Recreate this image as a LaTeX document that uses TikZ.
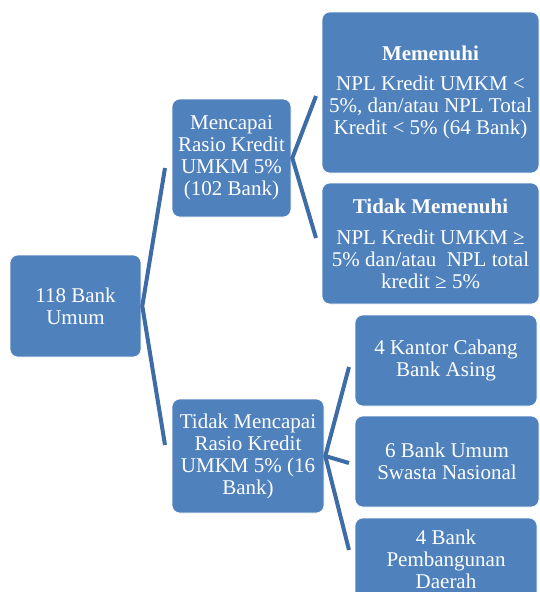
\documentclass[tikz,border=0pt]{standalone}
\usepackage{fontspec}
\setmainfont{Liberation Serif}
\definecolor{boxblue}{HTML}{4F81BD}
\definecolor{linkblue}{HTML}{3E6CA6}
\begin{document}
\begin{tikzpicture}[x=1pt,y=-1pt,
  box/.style={fill=boxblue, draw=white, line width=0.6pt, rounded corners=8pt,
    text=white, align=center, inner sep=0pt,
    font=\fontsize{21}{22}\selectfont},
  link/.style={draw=linkblue, line width=4pt, line cap=butt}]
\useasboundingbox (0,0) rectangle (540,592);
\clip (0,0) rectangle (540,592);
% nodes
\node[box, minimum width=131pt, minimum height=102pt] (root) at (75.5,306) {118 Bank\\Umum};
\node[box, minimum width=119pt, minimum height=118pt] (menc) at (231.5,158) {Mencapai\\Rasio Kredit\\UMKM 5\%\\(102 Bank)};
\node[box, minimum width=152pt, minimum height=114pt] (tidak) at (248,456) {Tidak Mencapai\\Rasio Kredit\\UMKM 5\% (16\\Bank)};
\node[box, minimum width=217pt, minimum height=161pt] (mem) at (430.5,92.5) {\textbf{Memenuhi}\\[8pt]NPL Kredit UMKM <\\5\%, dan/atau NPL Total\\Kredit < 5\% (64 Bank)};
\node[box, minimum width=217pt, minimum height=121pt] (tmem) at (430.5,243.5) {\textbf{Tidak Memenuhi}\\[9pt]NPL Kredit UMKM ≥\\5\% dan/atau~ NPL total\\kredit ≥ 5\%};
\node[box, minimum width=182pt, minimum height=91pt] (kantor) at (446,360.5) {4 Kantor Cabang\\Bank Asing};
\node[box, minimum width=184pt, minimum height=91pt] (swasta) at (447,461.5) {6 Bank Umum\\Swasta Nasional};
\node[box, minimum width=182pt, minimum height=82pt] (daerah) at (446,559) {4 Bank\\Pembangunan\\Daerah};
% connector ends
\coordinate (r1) at (165,168);
\coordinate (r2) at (165,445);
\coordinate (m1) at (316,96);
\coordinate (m2) at (316,238);
\coordinate (t1) at (349,367);
\coordinate (t2) at (349,463);
\coordinate (t3) at (349,550);
% connectors
\draw[link] (r1) -- ([xshift=1pt]root.east) -- (r2);
\draw[link] (m1) -- ([xshift=1pt]menc.east) -- (m2);
\draw[link] (t1) -- ([xshift=1pt]tidak.east) -- (t3);
\draw[link] ([xshift=1pt]tidak.east) -- (t2);
\end{tikzpicture}
\end{document}
